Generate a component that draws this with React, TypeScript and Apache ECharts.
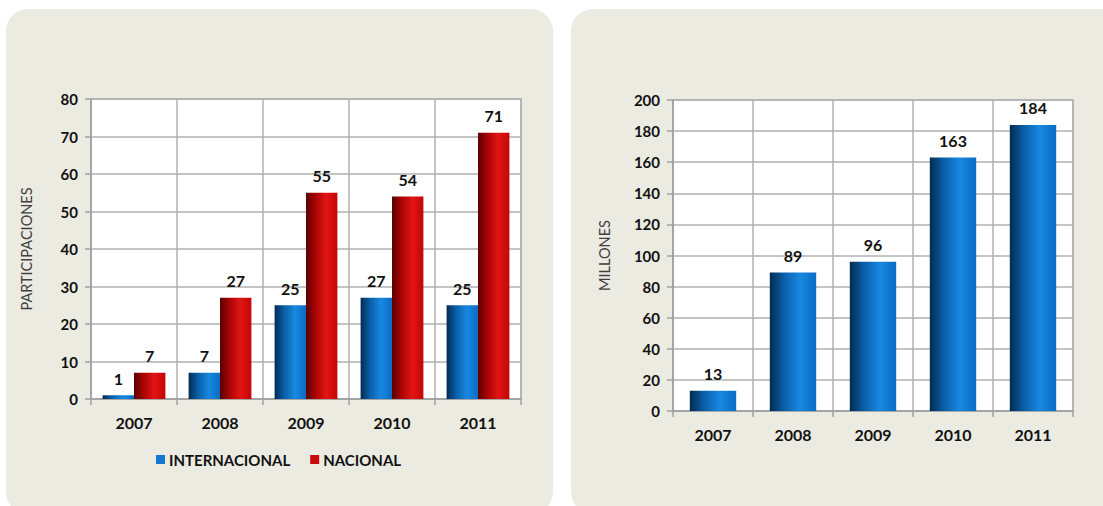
import React, { useEffect, useRef } from "react";
import * as echarts from "echarts";

const years = ["2007", "2008", "2009", "2010", "2011"];
const internacional = [1, 7, 25, 27, 25];
const nacional = [7, 27, 55, 54, 71];
const millones = [13, 89, 96, 163, 184];

const FONT = "Lato, 'Open Sans', sans-serif";

const blueGrad = () =>
  new echarts.graphic.LinearGradient(0, 0, 1, 0, [
    { offset: 0, color: "#022a52" },
    { offset: 0.3, color: "#0a5fa8" },
    { offset: 0.65, color: "#1888e0" },
    { offset: 1, color: "#0b6cc2" },
  ]);
const redGrad = () =>
  new echarts.graphic.LinearGradient(0, 0, 1, 0, [
    { offset: 0, color: "#5a0000" },
    { offset: 0.3, color: "#a80404" },
    { offset: 0.65, color: "#e21414" },
    { offset: 1, color: "#c30606" },
  ]);

export default function App() {
  const ref = useRef<HTMLDivElement>(null);
  useEffect(() => {
    if (!ref.current) return;
    const chart = echarts.init(ref.current, undefined, { renderer: "svg" });
    const gridLine = { show: true, lineStyle: { color: "#b0b0b0", width: 1.5 } };
    const axisLine = { show: true, lineStyle: { color: "#a0a0a0", width: 1.5 } };
    const tickLabel = { color: "#111", fontFamily: FONT, fontWeight: "bold" as const, fontSize: 15 };
    const valueLabel = {
      show: true,
      position: "top" as const,
      distance: 9,
      color: "#111",
      fontFamily: FONT,
      fontWeight: "bold" as const,
      fontSize: 16,
    };
    chart.setOption({
      animation: false,
      backgroundColor: "#ffffff",
      graphic: [
        {
          type: "rect",
          z: -10,
          shape: { x: 6, y: 9, width: 547, height: 505, r: 22 },
          style: { fill: "#ecebe1" },
          silent: true,
        },
        {
          type: "rect",
          z: -10,
          shape: { x: 571, y: 9, width: 560, height: 505, r: 22 },
          style: { fill: "#ecebe1" },
          silent: true,
        },
      ],
      legend: {
        left: 151,
        top: 447,
        icon: "rect",
        itemWidth: 9,
        itemHeight: 9,
        itemGap: 20,
        textStyle: { color: "#111", fontFamily: FONT, fontWeight: "bold", fontSize: 15, padding: [0, 0, 0, -1] },
        data: [
          { name: "INTERNACIONAL", itemStyle: { color: "#1477cf" } },
          { name: "NACIONAL", itemStyle: { color: "#c80a0a" } },
        ],
      },
      grid: [
        { left: 91, top: 99, width: 430, height: 300, show: true, backgroundColor: "#ffffff", borderColor: "#b0b0b0", borderWidth: 1.5 },
        { left: 673, top: 100, width: 400, height: 311, show: true, backgroundColor: "#ffffff", borderColor: "#b0b0b0", borderWidth: 1.5 },
      ],
      xAxis: [
        {
          type: "category",
          gridIndex: 0,
          data: years,
          axisLine,
          axisTick: { show: true, length: 6, lineStyle: { color: "#a0a0a0", width: 1.5 } },
          axisLabel: { ...tickLabel, fontSize: 16, margin: 15 },
          splitLine: gridLine,
        },
        {
          type: "category",
          gridIndex: 1,
          data: years,
          axisLine,
          axisTick: { show: true, length: 6, lineStyle: { color: "#a0a0a0", width: 1.5 } },
          axisLabel: { ...tickLabel, fontSize: 16, margin: 15 },
          splitLine: gridLine,
        },
      ],
      yAxis: [
        {
          type: "value",
          gridIndex: 0,
          min: 0,
          max: 80,
          interval: 10,
          axisLine,
          axisTick: { show: true, length: 6, lineStyle: { color: "#a0a0a0", width: 1.5 } },
          axisLabel: { ...tickLabel, margin: 13 },
          splitLine: gridLine,
          name: "PARTICIPACIONES",
          nameLocation: "middle",
          nameGap: 57,
          nameTextStyle: { color: "#404040", fontFamily: FONT, fontSize: 14.5 },
        },
        {
          type: "value",
          gridIndex: 1,
          min: 0,
          max: 200,
          interval: 20,
          axisLine,
          axisTick: { show: true, length: 6, lineStyle: { color: "#a0a0a0", width: 1.5 } },
          axisLabel: { ...tickLabel, margin: 13 },
          splitLine: gridLine,
          name: "MILLONES",
          nameLocation: "middle",
          nameGap: 61,
          nameTextStyle: { color: "#404040", fontFamily: FONT, fontSize: 14.5 },
        },
      ],
      series: [
        {
          name: "INTERNACIONAL",
          type: "bar",
          xAxisIndex: 0,
          yAxisIndex: 0,
          data: internacional,
          barGap: "0%",
          barCategoryGap: "27%",
          itemStyle: { color: blueGrad() },
          label: valueLabel,
        },
        {
          name: "NACIONAL",
          type: "bar",
          xAxisIndex: 0,
          yAxisIndex: 0,
          data: nacional,
          barGap: "0%",
          barCategoryGap: "27%",
          itemStyle: { color: redGrad() },
          label: valueLabel,
        },
        {
          name: "MILLONES",
          type: "bar",
          xAxisIndex: 1,
          yAxisIndex: 1,
          data: millones,
          barCategoryGap: "42%",
          itemStyle: { color: blueGrad() },
          label: valueLabel,
        },
      ],
    });
    return () => chart.dispose();
  }, []);
  return (
    <div
      ref={ref}
      style={{ position: "fixed", left: 0, top: 0, width: 1103, height: 506 }}
    />
  );
}
